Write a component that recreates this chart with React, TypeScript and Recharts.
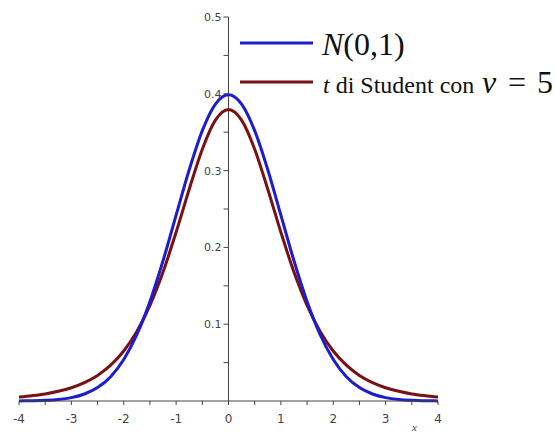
import React from 'react';
import { LineChart, Line, XAxis, YAxis, ReferenceLine, ReferenceDot } from 'recharts';

const xs = [-4, -3.75, -3.5, -3.25, -3, -2.75, -2.5, -2.25, -2, -1.75, -1.5, -1.25, -1, -0.75, -0.5, -0.25, 0, 0.25, 0.5, 0.75, 1, 1.25, 1.5, 1.75, 2, 2.25, 2.5, 2.75, 3, 3.25, 3.5, 3.75, 4];
const normalVals = [0.0001, 0.0004, 0.0009, 0.002, 0.0044, 0.0091, 0.0175, 0.0317, 0.054, 0.0863, 0.1295, 0.1826, 0.242, 0.3011, 0.3521, 0.3867, 0.3989, 0.3867, 0.3521, 0.3011, 0.242, 0.1826, 0.1295, 0.0863, 0.054, 0.0317, 0.0175, 0.0091, 0.0044, 0.002, 0.0009, 0.0004, 0.0001];
const studentVals = [0.0051, 0.0069, 0.0092, 0.0126, 0.0173, 0.0239, 0.0333, 0.0466, 0.0651, 0.0905, 0.1245, 0.1679, 0.2197, 0.2757, 0.3279, 0.3657, 0.3796, 0.3657, 0.3279, 0.2757, 0.2197, 0.1679, 0.1245, 0.0905, 0.0651, 0.0466, 0.0333, 0.0239, 0.0173, 0.0126, 0.0092, 0.0069, 0.0051];
const xTicks = [-4, -3.5, -3, -2.5, -2, -1.5, -1, -0.5, 0, 0.5, 1, 1.5, 2, 2.5, 3, 3.5, 4];
const yTickLabels = [0.1, 0.2, 0.3, 0.4, 0.5];
const yMinorTicks = [0.05, 0.15, 0.25, 0.35, 0.45];

const data = xs.map((x, i) => ({ x, normal: normalVals[i], student: studentVals[i] }));

const BLUE = '#1c1cd0';
const BROWN = '#781014';
const AXIS = '#444';
const TICK_TEXT = '#444';
const tickFont = 'DejaVu Sans, Verdana, sans-serif';
const serifFont = 'Liberation Serif, DejaVu Serif, serif';

const YTick = (props: any) => {
  const { cx, cy, label } = props;
  return (
    <g>
      <line x1={cx - 5} y1={cy} x2={cx} y2={cy} stroke={AXIS} strokeWidth={1} />
      {label ? (
        <text x={cx - 7} y={cy} dy={4} textAnchor="end" fontSize={11} fontFamily={tickFont} fill={TICK_TEXT}>
          {label}
        </text>
      ) : null}
    </g>
  );
};

const XTick = (props: any) => {
  const { x, y, payload } = props;
  const v = payload.value;
  if (!Number.isInteger(v)) return null;
  return (
    <text x={x} y={y} dy={16} textAnchor="middle" fontSize={12} fontFamily={tickFont} fill={TICK_TEXT}>
      {String(v)}
    </text>
  );
};

export default function App() {
  return (
    <div style={{ position: 'absolute', left: 0, top: 0, width: 555, height: 432, background: '#fff' }}>
      <LineChart width={555} height={432} data={data} margin={{ top: 17, right: 117, left: 19, bottom: 1 }}>
        <XAxis
          dataKey="x"
          type="number"
          domain={[-4, 4]}
          ticks={xTicks}
          interval={0}
          height={30}
          tickSize={4}
          stroke={AXIS}
          tick={<XTick />}
          label={{ value: 'x', position: 'insideBottomRight', offset: 0, dx: -21, dy: 0, fontSize: 11, fontStyle: 'italic', fontFamily: serifFont, fill: TICK_TEXT }}
        />
        <YAxis type="number" domain={[0, 0.5]} hide />
        <ReferenceLine x={0} stroke={AXIS} strokeWidth={1} ifOverflow="visible" />
        {yTickLabels.map((v) => (
          <ReferenceDot key={'t' + v} x={0} y={v} r={0} ifOverflow="visible" shape={(p: any) => <YTick {...p} label={String(v)} />} />
        ))}
        {yMinorTicks.map((v) => (
          <ReferenceDot key={'m' + v} x={0} y={v} r={0} ifOverflow="visible" shape={(p: any) => <YTick {...p} />} />
        ))}
        <Line type="monotone" dataKey="student" stroke={BROWN} strokeWidth={3} dot={false} isAnimationActive={false} />
        <Line type="monotone" dataKey="normal" stroke={BLUE} strokeWidth={3} dot={false} isAnimationActive={false} />
      </LineChart>
      <svg width={555} height={120} style={{ position: 'absolute', left: 0, top: 0 }}>
        <line x1={240} y1={43} x2={313} y2={43} stroke={BLUE} strokeWidth={3} />
        <line x1={240} y1={82} x2={313} y2={82} stroke={BROWN} strokeWidth={3} />
        <text x={322} y={55} fontFamily={serifFont} fontSize={32} fill="#111">
          <tspan fontStyle="italic">N</tspan>
          <tspan>(0,1)</tspan>
        </text>
        <text x={323} y={93} fontFamily={serifFont} fontSize={24} fill="#111">
          <tspan fontStyle="italic">t</tspan>
          <tspan> di Student con</tspan>
          <tspan x={482} fontSize={32} fontStyle="italic">ν</tspan>
          <tspan x={508} fontSize={32}>=</tspan>
          <tspan x={537} fontSize={32}>5</tspan>
        </text>
      </svg>
    </div>
  );
}
